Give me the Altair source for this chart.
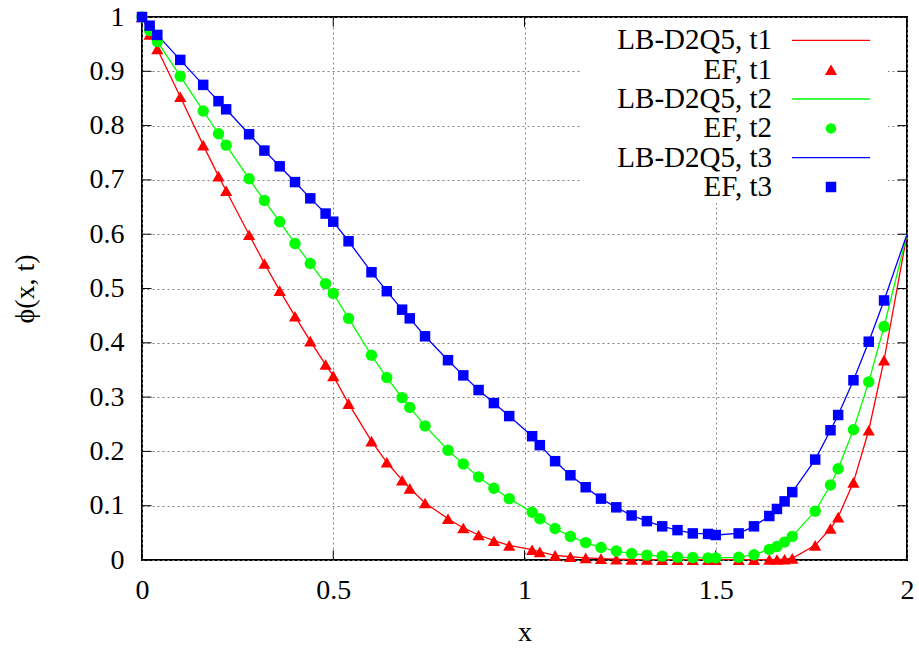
import altair as alt
import pandas as pd

# ---- data ----
x_nodes = [0.00, 0.02, 0.04, 0.10, 0.16, 0.20, 0.22, 0.28, 0.32, 0.36,
           0.40, 0.44, 0.48, 0.50, 0.54, 0.60, 0.64, 0.68, 0.70, 0.74,
           0.80, 0.84, 0.88, 0.92, 0.96, 1.02, 1.04, 1.08, 1.12, 1.16,
           1.20, 1.24, 1.28, 1.32, 1.36, 1.40, 1.44, 1.48, 1.50, 1.56,
           1.60, 1.64, 1.66, 1.68, 1.70, 1.76, 1.80, 1.82, 1.86, 1.90,
           1.94, 2.00]

phi_t1 = [1.000, 0.968, 0.941, 0.853, 0.764, 0.707, 0.680, 0.599, 0.546, 0.496,
          0.449, 0.403, 0.360, 0.339, 0.288, 0.219, 0.180, 0.147, 0.132, 0.105,
          0.076, 0.059, 0.046, 0.0355, 0.027, 0.019, 0.015, 0.0085, 0.006, 0.004,
          0.0025, 0.0015, 0.001, 0.0008, 0.0005, 0.0005, 0.0005, 0.0005, 0.0005, 0.0005,
          0.0005, 0.0008, 0.001, 0.0015, 0.003, 0.027, 0.058, 0.079, 0.143, 0.239,
          0.368, 0.600]

phi_t2 = [1.000, 0.975, 0.955, 0.891, 0.827, 0.785, 0.764, 0.702, 0.662, 0.623,
          0.583, 0.546, 0.509, 0.491, 0.445, 0.377, 0.336, 0.299, 0.281, 0.247,
          0.202, 0.177, 0.153, 0.132, 0.113, 0.088, 0.076, 0.058, 0.0435, 0.032,
          0.023, 0.0165, 0.012, 0.009, 0.007, 0.005, 0.0045, 0.004, 0.004, 0.005,
          0.0098, 0.0195, 0.025, 0.033, 0.0435, 0.090, 0.138, 0.168, 0.240, 0.328,
          0.430, 0.600]

phi_t3 = [1.000, 0.984, 0.967, 0.921, 0.875, 0.845, 0.830, 0.784, 0.754, 0.725,
          0.696, 0.666, 0.638, 0.623, 0.587, 0.530, 0.495, 0.461, 0.445, 0.412,
          0.368, 0.340, 0.313, 0.289, 0.265, 0.228, 0.2115, 0.182, 0.156, 0.134,
          0.113, 0.097, 0.082, 0.0716, 0.062, 0.055, 0.049, 0.048, 0.046, 0.049,
          0.062, 0.081, 0.094, 0.108, 0.125, 0.185, 0.239, 0.267, 0.331, 0.402,
          0.478, 0.600]

series = ["t1", "t2", "t3"]
colors = ["#ff0000", "#00ff00", "#0000ff"]
shapes = ["triangle-up", "circle", "square"]
marker_sizes = [150, 110, 110]
line_labels = ["LB-D2Q5, t1", "LB-D2Q5, t2", "LB-D2Q5, t3"]
point_labels = ["EF, t1", "EF, t2", "EF, t3"]

x_ticks = [0, 0.5, 1, 1.5, 2]
y_ticks = [0, 0.1, 0.2, 0.3, 0.4, 0.5, 0.6, 0.7, 0.8, 0.9, 1]

# ---- tables ----
rows = []
for s, vals in zip(series, [phi_t1, phi_t2, phi_t3]):
    for xv, yv in zip(x_nodes, vals):
        rows.append({"x": xv, "phi": yv, "series": s})
df = pd.DataFrame(rows)
df_pts = df[df["x"] < 2.0]

W, H = 765, 543
FONT = "Liberation Serif, Times New Roman, serif"
FS = 28

xs = alt.Scale(domain=[0, 2], nice=False, zero=False)
ys = alt.Scale(domain=[0, 1], nice=False, zero=False)
col = alt.Scale(domain=series, range=colors)
shp = alt.Scale(domain=series, range=shapes)
siz = alt.Scale(domain=series, range=marker_sizes)

X = alt.X("x:Q", scale=xs,
          axis=alt.Axis(values=x_ticks, format="~g", title="x", grid=True, ticks=False,
                        tickSize=0, domain=False, labelFlush=False,
                        labelBaseline="middle", labelPadding=30,
                        titleX=W / 2, titleY=72,
                        titleBaseline="middle", titleAlign="center"))
Y = alt.Y("phi:Q", scale=ys,
          axis=alt.Axis(values=y_ticks, format="~g", title="ϕ(x, t)", grid=True,
                        ticks=False, tickSize=0, domain=False, labelFlush=False,
                        labelPadding=18, labelAlign="right", labelBaseline="middle",
                        titleX=-117, titleY=H / 2, titleAngle=270,
                        titleAlign="center", titleBaseline="middle"))

base = alt.Chart(df)

lines = base.mark_line(strokeWidth=1.3, clip=True).encode(
    x=X, y=Y,
    color=alt.Color("series:N", scale=col, legend=None),
    detail="series:N",
)

points = alt.Chart(df_pts).mark_point(filled=True, opacity=1).encode(
    x=alt.X("x:Q", scale=xs),
    y=alt.Y("phi:Q", scale=ys),
    color=alt.Color("series:N", scale=col, legend=None),
    shape=alt.Shape("series:N", scale=shp, legend=None),
    size=alt.Size("series:N", scale=siz, legend=None),
)

# inward mirrored tick marks (gnuplot style)
tick_rows = []
for v in y_ticks:
    tick_rows.append({"x": 0, "x2": 0.025, "y": v, "y2": v})
    tick_rows.append({"x": 1.975, "x2": 2, "y": v, "y2": v})
for v in x_ticks:
    tick_rows.append({"x": v, "x2": v, "y": 0, "y2": 0.018})
    tick_rows.append({"x": v, "x2": v, "y": 0.982, "y2": 1})
ticks = alt.Chart(pd.DataFrame(tick_rows)).mark_rule(color="black", strokeWidth=1).encode(
    x=alt.X("x:Q", scale=xs), x2="x2:Q",
    y=alt.Y("y:Q", scale=ys), y2="y2:Q",
)

# opaque key box (gnuplot key), text on the left, sample on the right
key_box = alt.Chart(pd.DataFrame({"a": [0]})).mark_rect(fill="white").encode(
    x=alt.value(438), x2=alt.value(746), y=alt.value(1), y2=alt.value(186))

layers = [ticks, key_box]
row_y = [23.4, 52.7, 82.0, 111.4, 140.7, 170.0]
entries = []
for i in range(3):
    entries.append(("line", line_labels[i], colors[i], shapes[i], marker_sizes[i]))
    entries.append(("point", point_labels[i], colors[i], shapes[i], marker_sizes[i]))
for (kind, label, c, sh, sz), ry in zip(entries, row_y):
    one = alt.Chart(pd.DataFrame({"label": [label]}))
    layers.append(one.mark_text(align="right", baseline="middle", font=FONT,
                                fontSize=29, color="black").encode(
        text="label:N", x=alt.value(630), y=alt.value(ry)))
    if kind == "line":
        layers.append(one.mark_rule(color=c, strokeWidth=1.3).encode(
            x=alt.value(650), x2=alt.value(728), y=alt.value(ry), y2=alt.value(ry)))
    else:
        layers.append(one.mark_point(filled=True, opacity=1, size=sz, shape=sh,
                                     color=c).encode(
            x=alt.value(689), y=alt.value(ry)))

chart = alt.layer(lines, *layers, points).properties(
    width=W, height=H,
    padding={"left": 142, "top": 17, "right": 12, "bottom": 93},
    autosize=alt.AutoSizeParams(type="none"),
    background="white",
).configure_view(
    stroke="black", strokeWidth=2,
).configure_axis(
    labelFont=FONT, labelFontSize=FS, labelColor="black",
    titleFont=FONT, titleFontSize=FS, titleFontWeight="normal", titleColor="black",
    gridColor="#808080", gridDash=[2, 3], gridWidth=1, gridOpacity=1,
)

chart.save("out.html", embed_options={"renderer": "svg", "actions": False})
